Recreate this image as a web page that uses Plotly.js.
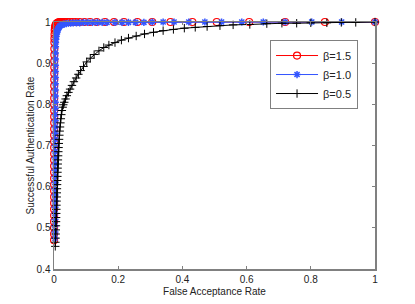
<!DOCTYPE html>
<html>
<head>
<meta charset="utf-8">
<script src="https://cdn.plot.ly/plotly-3.0.1.min.js"></script>
<style>html,body{margin:0;padding:0;background:#fff;}#chart{width:415px;height:304px;}</style>
</head>
<body>
<div id="chart"></div>
<script>
const seriesNames = ["β=1.5", "β=1.0", "β=0.5"];

const redX = [0.0002,0.0002,0.0002,0.0002,0.0003,0.0003,0.0003,0.0003,0.0003,0.0004,0.0004,0.0004,0.0004,0.0004,0.0005,0.0005,0.0005,0.0005,0.0005,0.0006,0.0006,0.0006,0.0006,0.0007,0.0007,0.0007,0.0008,0.0008,0.0009,0.0009,0.001,0.0011,0.0012,0.0014,0.0017,
  0.0022,0.003,0.004,0.0055,0.007,0.009,0.0115,0.014,0.017,0.021,0.025,0.03,0.035,0.042,0.049,0.058,0.068,0.08,0.095,0.112,0.133,0.159,0.187,0.218,0.26,0.306,0.363,0.431,0.507,0.608,0.72,0.844,1.0];
const redY = [0.47,0.485,0.5,0.515,0.53,0.545,0.56,0.575,0.59,0.605,0.62,0.635,0.65,0.665,0.68,0.695,0.71,0.725,0.74,0.755,0.77,0.785,0.8,0.815,0.83,0.845,0.86,0.875,0.89,0.905,0.92,0.935,0.95,0.96,0.97,
  0.98,0.986,0.99,0.993,0.995,0.997,0.998,0.999,0.9995,1,1,1,1,1,1,1,1,1,1,1,1,1,1,1,1,1,1,1,1,1,1,1,1];

const blueX = [0.0028,0.0028,0.0029,0.0029,0.003,0.003,0.0031,0.0031,0.0032,0.0032,0.0033,0.0033,0.0034,0.0034,0.0035,0.0035,0.0036,0.0036,0.0037,0.0037,0.0038,0.0038,0.0039,0.0039,0.004,0.004,0.0041,0.0041,0.0042,0.0043,0.0044,0.0045,
  0.0048,0.0056,0.0066,0.008,0.0095,0.011,0.013,0.0155,0.018,0.022,0.027,0.032,0.038,0.045,0.052,0.06,0.07,0.08,0.092,0.105,0.12,0.135,0.15,0.165,0.19,0.212,0.232,0.254,0.28,0.306,0.34,0.374,0.42,0.47,0.522,0.585,0.652,0.72,0.803,0.896,1.0];
const blueY = [0.475,0.49,0.505,0.52,0.535,0.55,0.565,0.58,0.595,0.61,0.625,0.64,0.655,0.67,0.685,0.7,0.715,0.73,0.745,0.76,0.775,0.79,0.805,0.82,0.835,0.85,0.865,0.88,0.895,0.91,0.925,0.94,
  0.95,0.958,0.965,0.971,0.976,0.98,0.984,0.987,0.99,0.992,0.994,0.995,0.996,0.997,0.997,0.998,0.998,0.998,0.999,0.999,0.999,0.999,0.999,0.999,0.999,0.999,0.999,0.999,0.999,1,1,1,1,1,1,1,1,1,1,1,1];

const blackX = [0.004,0.0045,0.005,0.0052,0.0055,0.006,0.0063,0.0066,0.007,0.0073,0.0077,0.008,0.0084,0.0088,0.0092,0.0096,0.01,0.0104,0.0108,0.0112,0.0117,0.0122,0.0128,0.0135,0.0142,0.015,0.0158,0.0167,0.0177,0.0188,0.02,0.0213,0.0228,0.0245,0.027,0.029,0.032,0.036,0.04,0.045,0.05,0.056,0.062,0.069,0.076,0.083,0.092,0.102,0.113,0.125,0.14,0.155,0.171,0.19,0.21,0.232,0.256,0.282,0.31,0.34,0.372,0.406,0.44,0.477,0.517,0.558,0.61,0.663,0.71,0.756,0.8,0.85,0.895,0.94,1.0];
const blackY = [0.455,0.465,0.475,0.485,0.495,0.505,0.515,0.525,0.535,0.545,0.555,0.565,0.575,0.585,0.595,0.605,0.615,0.625,0.635,0.645,0.655,0.665,0.675,0.685,0.695,0.705,0.715,0.725,0.735,0.745,0.755,0.765,0.775,0.785,0.793,0.799,0.805,0.813,0.821,0.829,0.837,0.846,0.855,0.864,0.873,0.882,0.892,0.903,0.912,0.921,0.93,0.938,0.944,0.95,0.956,0.961,0.966,0.971,0.975,0.979,0.982,0.985,0.987,0.989,0.991,0.993,0.994,0.996,0.997,0.997,0.998,0.998,0.999,0.999,1.0];

const xTicks = [0, 0.2, 0.4, 0.6, 0.8, 1];
const yTicks = [0.4, 0.5, 0.6, 0.7, 0.8, 0.9, 1];

const traces = [
  {x: redX, y: redY, name: seriesNames[0], type: 'scatter', mode: 'lines+markers', cliponaxis: false,
   line: {color: '#ff0000', width: 1},
   marker: {symbol: 'circle-open', size: 7, color: '#ff0000', line: {width: 1.2, color: '#ff0000'}}},
  {x: blueX, y: blueY, name: seriesNames[1], type: 'scatter', mode: 'lines+markers', cliponaxis: false,
   line: {color: '#3355ff', width: 1},
   marker: {symbol: 'asterisk-open', size: 6, color: '#3355ff', line: {width: 1.5, color: '#3355ff'}}},
  {x: blackX, y: blackY, name: seriesNames[2], type: 'scatter', mode: 'lines+markers', cliponaxis: false,
   line: {color: '#000000', width: 1},
   marker: {symbol: 'cross-thin-open', size: 6, color: '#000000', line: {width: 1, color: '#000000'}}}
];

const axisCommon = {
  showgrid: false, zeroline: false, showline: true, mirror: 'allticks',
  linecolor: '#808080', linewidth: 1.5, ticks: 'inside', ticklen: 3, tickcolor: '#808080', tickwidth: 1,
  tickfont: {family: 'Liberation Sans, Arial, sans-serif', size: 10, color: '#222'}
};

const layout = {
  width: 415, height: 304,
  margin: {l: 54, r: 40, t: 22, b: 35},
  paper_bgcolor: '#fff', plot_bgcolor: '#fff',
  font: {family: 'Liberation Sans, Arial, sans-serif', size: 10, color: '#222'},
  showlegend: true,
  legend: {x: 0.673, y: 0.927, xanchor: 'left', yanchor: 'top',
    bordercolor: '#808080', borderwidth: 1, bgcolor: '#fff',
    font: {family: 'Liberation Sans, Arial, sans-serif', size: 11, color: '#222'},
    itemwidth: 42, tracegroupgap: 0},
  xaxis: Object.assign({}, axisCommon, {range: [0, 1], tickvals: xTicks, ticktext: xTicks.map(String),
    title: {text: 'False Acceptance Rate', font: {size: 10, color: '#222'}, standoff: 4}}),
  yaxis: Object.assign({}, axisCommon, {range: [0.4, 1], tickvals: yTicks, ticktext: yTicks.map(String),
    title: {text: 'Successful Authentication Rate', font: {size: 10, color: '#222'}, standoff: 0}})
};

Plotly.newPlot('chart', traces, layout, {displayModeBar: false, staticPlot: true});
</script>
</body>
</html>
